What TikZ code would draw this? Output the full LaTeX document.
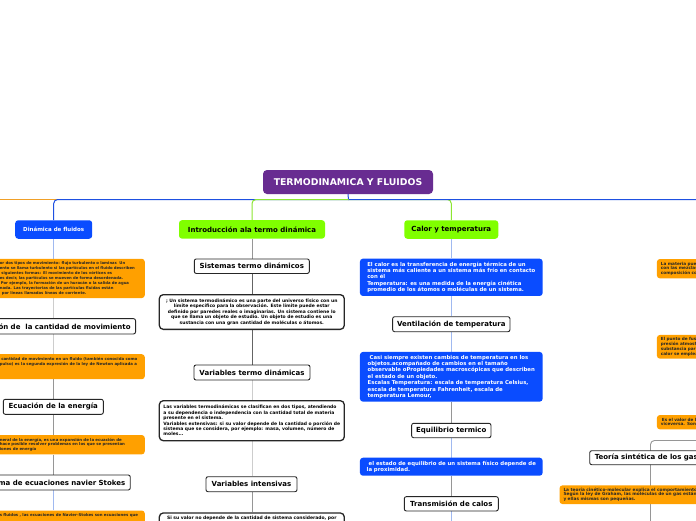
\documentclass[tikz,border=0pt]{standalone}
\usepackage{fontspec}
\setmainfont{DejaVu Sans}
\usetikzlibrary{backgrounds}
\definecolor{purpT}{RGB}{104,44,145}
\definecolor{blueN}{RGB}{10,76,255}
\definecolor{greenN}{RGB}{128,255,0}
\definecolor{orangeN}{RGB}{255,160,0}
\definecolor{lineB}{RGB}{30,80,225}
\definecolor{lineG}{RGB}{140,230,50}
\definecolor{lineO}{RGB}{240,160,40}
\definecolor{cLB}{RGB}{160,185,240}
\definecolor{cLG}{RGB}{205,205,205}
\definecolor{cMG}{RGB}{150,150,150}
\definecolor{cDG}{RGB}{100,100,100}
\newcommand{\fsz}[2]{\fontsize{#1}{#2}\selectfont}
\begin{document}
\begin{tikzpicture}[x=1pt,y=-1pt,
  titlebox/.style={fill=purpT, text=white, rounded corners=4pt, inner sep=0pt,
     minimum width=170pt, minimum height=24pt, font=\bfseries\fsz{9.3}{10}},
  hd/.style={draw=black!85, line width=0.9pt, fill=white, rounded corners=2pt,
     inner sep=0pt, font=\bfseries\fsz{7}{8}},
  tb/.style={draw=black!85, line width=1.3pt, fill=white, rounded corners=4pt,
     inner sep=0pt, font=\bfseries\fsz{4.5}{5.4}},
  ob/.style={fill=orangeN, rounded corners=3pt, inner sep=0pt,
     font=\bfseries\fsz{3.8}{4.9}, text=black!85},
  bb/.style={fill=blueN, text=white, rounded corners=3pt, inner sep=0pt,
     font=\bfseries\fsz{5.35}{6.4}},
  gb/.style={fill=greenN, rounded corners=3pt, inner sep=0pt,
     font=\bfseries\fsz{7}{8}},
  ln/.style={line width=0.9pt},
  tl/.style={line width=1pt}
]
\useasboundingbox (0,0) rectangle (696,520);
\clip (0,0) rectangle (696,520);

% ---- title and first level
\node[titlebox] (title) at (348,182) {TERMODINAMICA Y FLUIDOS};
\coordinate (hub) at (348.5,199.5);
\coordinate (offL) at (-20,199.5);
\coordinate (offR) at (720,199.5);
\node[bb, font=\bfseries\fsz{5.5}{6}, minimum width=77pt, minimum height=18.5pt] (din) at (53.7,229.5) {Dinámica de fluidos};
\node[gb, minimum width=146pt, minimum height=18.5pt] (intro) at (252,229.4) {Introducción ala termo dinámica};
\node[gb, minimum width=94pt, minimum height=18.5pt] (calor) at (451.3,229.5) {Calor y temperatura};

% ---- column 1
\node[ob, anchor=east, text width=142pt, inner xsep=3pt, minimum height=39.3pt, align=left] (o1) at (145,278.4)
 {or dos tipos de movimiento: flujo turbulento o laminar. Un\\
  ento se llama turbulento si las partículas en el fluido describen\\
  \hspace*{1.5pt}siguientes formas: El movimiento de los vórtices es\\
  es decir, las partículas se mueven de forma desordenada.\\
  \hspace*{1pt}Por ejemplo, la formación de un huracán o la salida de agua\\
  nada. Las trayectorias de las partículas fluidas están\\
  \hspace*{2pt}por líneas llamadas líneas de corriente.};
\node[hd, anchor=east, inner xsep=5pt, minimum height=15.3pt] (cant) at (136,326.3) {Ecuación de\ \ la cantidad de movimiento};
\node[ob, anchor=north east, inner sep=3pt, font=\bfseries\fsz{3.9}{4.7}] (o2) at (145,354)
 {\parbox[t][19pt][t]{142pt}{\raggedright
  \hspace*{1.5pt}cantidad de movimiento en un fluido (también conocida como\\
  pulso) es la segunda expresión de la ley de Newton aplicada a}};
\node[hd, minimum width=100pt, minimum height=15pt] (ener) at (53.3,406.8) {Ecuación de la energía};
\node[ob, anchor=east, text width=142pt, inner xsep=3pt, minimum height=19.3pt, align=left, font=\bfseries\fsz{3.9}{4.7}] (o3) at (145,444.7)
 {neral de la energía, es una expansión de la ecuación de\\
  hace posible resolver problemas en los que se presentan\\
  iones de energía};
\node[hd, anchor=east, inner xsep=5pt, minimum height=15pt] (nav) at (130.7,482.5) {Sistema de ecuaciones navier Stokes};
\node[ob, anchor=north east, inner sep=3pt, font=\bfseries\fsz{3.9}{4.7}] (o4) at (145,510.3)
 {\parbox[t][20pt][t]{142pt}{\raggedright
  s fluidos , las ecuaciones de Navier-Stokes son ecuaciones que}};

% ---- column 2
\node[hd, minimum width=115pt, minimum height=14.5pt] (sist) at (251.8,266.2) {Sistemas termo dinámicos};
\node[tb, minimum width=185pt, minimum height=34.7pt, align=center] (t1) at (251.8,312)
 {; Un sistema termodinámico es una parte del universo físico con un\\
  límite específico para la observación. Este límite puede estar\\
  definido por paredes reales o imaginarias. Un sistema contiene lo\\
  que se llama un objeto de estudio. Un objeto de estudio es una\\
  sustancia con una gran cantidad de moléculas o átomos.};
\node[hd, minimum width=116pt, minimum height=15pt] (vart) at (252,372.5) {Variables termo dinámicas};
\node[tb, minimum width=185pt, minimum height=40pt, align=left] (t2) at (251.8,420.7)
 {Las variables termodinámicas se clasifican en dos tipos, atendiendo\\
  a su dependencia o independencia con la cantidad total de materia\\
  presente en el sistema.\\
  Variables extensivas: si su valor depende de la cantidad o porción de\\
  sistema que se considera, por ejemplo: masa, volumen, número de\\
  moles...};
\node[hd, minimum width=91pt, minimum height=15pt] (vari) at (251.5,484.2) {Variables intensivas};
\node[tb, anchor=north, inner xsep=3.5pt, inner ysep=3pt] (t3) at (251.8,512.3)
 {\parbox[t][25pt][t]{178pt}{\centering
  Si su valor no depende de la cantidad de sistema considerado, por}};

% ---- column 3
\node[bb, minimum width=182.7pt, minimum height=37.3pt, align=left] (b1) at (451.3,277.3)
 {El calor es la transferencia de energía térmica de un\\
  sistema más caliente a un sistema más frío en contacto\\
  con él\\
  Temperatura: es una medida de la energía cinética\\
  promedio de los átomos o moléculas de un sistema.};
\node[hd, minimum width=117.3pt, minimum height=15pt] (vent) at (451.3,324.2) {Ventilación de temperatura};
\node[bb, minimum width=182.7pt, minimum height=49.7pt, align=left] (b2) at (451.3,376.8)
 {\hspace*{2pt}Casi siempre existen cambios de temperatura en los\\
  objetos.acompañado de cambios en el tamaño\\
  observable oPropiedades macroscópicas que describen\\
  el estado de un objeto.\\
  Escalas Temperatura: escala de temperatura Celsius,\\
  escala de temperatura Fahrenheit, escala de\\
  temperatura Lemour,};
\node[hd, minimum width=79.3pt, minimum height=14.4pt] (equi) at (451.3,430.5) {Equilibrio termico};
\node[bb, minimum width=182.7pt, minimum height=18pt, align=left] (b3) at (451.3,466.7)
 {\hspace*{2pt}el estado de equilibrio de un sistema físico depende de\\
  la proximidad.};
\node[hd, minimum width=94pt, minimum height=14.3pt] (trans) at (451.3,503.8) {Transmisión de calos};
\coordinate (c3end) at (451.3,530);

% ---- right side
\node[ob, anchor=west, text width=56pt, inner xsep=4pt, minimum height=19.3pt, align=left, font=\bfseries\fsz{4.2}{4.7}] (r1) at (656.7,268.7)
 {La materia pued\\con las mezclas\\composición co};
\node[ob, anchor=west, text width=56pt, inner xsep=4pt, minimum height=23.7pt, align=left, font=\bfseries\fsz{4.2}{4.7}] (r2) at (656.7,346.8)
 {El punto de fusi\\presión atmosf\\substancia para\\calor se emplea};
\node[ob, anchor=west, text width=56pt, inner xsep=4pt, minimum height=14.3pt, align=left, font=\bfseries\fsz{4.2}{4.7}] (r3) at (656.7,422.2)
 {\hspace*{1pt}Es el valor de la\\viceversa. Son p};
\node[hd, anchor=west, inner xsep=5pt, minimum height=14pt] (teo) at (589.3,457.7) {Teoría sintética de los gases};
\node[ob, anchor=west, text width=150pt, inner xsep=4pt, minimum height=18.7pt, align=left, font=\bfseries\fsz{4.3}{4.7}] (r4) at (559.3,494.7)
 {La teoría cinético-molecular explica el comportamiento de l\\
  Según la ley de Graham, las moléculas de un gas están en c\\
  y ellas mismas son pequeñas.};
\coordinate (rg1) at (720,440.5);
\coordinate (rg2) at (650.5,530);

% ---- connectors
\begin{scope}[on background layer]
  \fill[white] (0,0) rectangle (696,520);
  \draw[tl, lineG, rounded corners=4pt] (hub) -| (calor.north);
  \draw[tl, lineB] (title.south) -- (hub) -- (offR);
  \draw[tl, lineO] (hub) -- (offL);
  \draw[tl, lineB, rounded corners=4pt] (hub) -| (din.north);
  \draw[tl, lineG, rounded corners=4pt] (hub) -| (intro.north);
  % column 1
  \draw[ln, cLB] (din.south) -- (din.south |- o1.north);
  \draw[ln, cLG] (din.south |- o1.south) -- (din.south |- cant.north);
  \draw[ln, cLG] (din.south |- cant.south) -- (din.south |- o2.north);
  \draw[ln, cMG] (din.south |- o2.south) -- (din.south |- ener.north);
  \draw[ln, cMG] (din.south |- ener.south) -- (din.south |- o3.north);
  \draw[ln, cMG] (din.south |- o3.south) -- (din.south |- nav.north);
  \draw[ln, cLB] (din.south |- nav.south) -- (din.south |- o4.north);
  % column 2
  \draw[ln, cMG] (intro.south) -- (intro.south |- sist.north);
  \draw[ln, cDG] (intro.south |- sist.south) -- (intro.south |- t1.north);
  \draw[ln, cDG] (intro.south |- t1.south) -- (intro.south |- vart.north);
  \draw[ln, cLG] (intro.south |- vart.south) -- (intro.south |- t2.north);
  \draw[ln, cLG] (intro.south |- t2.south) -- (intro.south |- vari.north);
  \draw[ln, cMG] (intro.south |- vari.south) -- (intro.south |- t3.north);
  % column 3
  \draw[ln, cLB] (calor.south) -- (b1.north);
  \draw[ln, cLB] (b1.south) -- (vent.north);
  \draw[ln, cLB] (vent.south) -- (b2.north);
  \draw[ln, cMG] (b2.south) -- (equi.north);
  \draw[ln, cLB] (equi.south) -- (b3.north);
  \draw[ln, cMG] (b3.south) -- (trans.north);
  \draw[ln, cLB] (trans.south) -- (c3end);
  % right
  \draw[ln, cMG, rounded corners=4pt] (rg1) -| (rg2);
\end{scope}
\end{tikzpicture}
\end{document}
